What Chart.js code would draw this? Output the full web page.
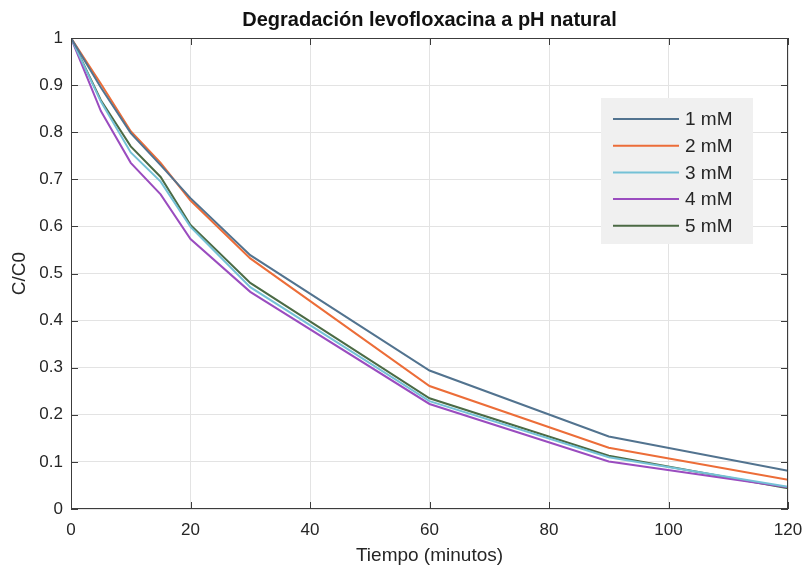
<!DOCTYPE html>
<html>
<head>
<meta charset="utf-8">
<script src="https://cdn.jsdelivr.net/npm/chart.js@4"></script>
<style>
  html, body { margin: 0; padding: 0; background: #fff; }
  #wrap { width: 805px; height: 568px; }
</style>
</head>
<body>
<div id="wrap"><canvas id="chart" width="805" height="568"></canvas></div>
<script>
'use strict';

/* ---------- data ---------- */
const tiempo = [0, 5, 10, 15, 20, 30, 60, 90, 120];
const serie1mM = [1, 0.895, 0.798, 0.730, 0.660, 0.539, 0.294, 0.154, 0.081];
const serie2mM = [1, 0.903, 0.802, 0.735, 0.655, 0.532, 0.261, 0.130, 0.062];
const serie3mM = [1, 0.865, 0.757, 0.695, 0.599, 0.471, 0.229, 0.110, 0.047];
const serie4mM = [1, 0.845, 0.735, 0.668, 0.573, 0.461, 0.223, 0.101, 0.046];
const serie5mM = [1, 0.868, 0.770, 0.705, 0.603, 0.480, 0.235, 0.113, 0.044];
const etiquetas = ['1 mM', '2 mM', '3 mM', '4 mM', '5 mM'];
const colores = ['#52738f', '#ec6d38', '#74c1d6', '#9a4cbf', '#4b6a44'];
const xTicks = [0, 20, 40, 60, 80, 100, 120];
const titulo = 'Degradación levofloxacina a pH natural';

const FONT = '"Liberation Sans", Arial, Helvetica, sans-serif';

function toPoints(ys) {
  return ys.map(function (y, i) { return { x: tiempo[i], y: y }; });
}

/* ---------- title over the axes, box, inward ticks, legend (MATLAB look) ---------- */
const matlabFrame = {
  id: 'matlabFrame',
  afterDatasetsDraw: function (chart) {
    const ctx = chart.ctx;
    const a = chart.chartArea;
    const xs = chart.scales.x, ys = chart.scales.y;
    ctx.save();

    /* title centred on the plot area, like MATLAB */
    ctx.fillStyle = '#111';
    ctx.font = 'bold 20px ' + FONT;
    ctx.textAlign = 'center';
    ctx.textBaseline = 'middle';
    ctx.fillText(titulo, (a.left + a.right) / 2, 20);

    ctx.strokeStyle = '#3c3c3c';
    ctx.lineWidth = 1;
    ctx.strokeRect(a.left + 0.5, a.top + 0.5, a.right - a.left - 1, a.bottom - a.top - 1);

    /* inward ticks */
    ctx.beginPath();
    xTicks.forEach(function (v) {
      const px = Math.round(xs.getPixelForValue(v)) + 0.5;
      ctx.moveTo(px, a.bottom); ctx.lineTo(px, a.bottom - 7);
      ctx.moveTo(px, a.top);    ctx.lineTo(px, a.top + 7);
    });
    for (let v = 0; v <= 10; v++) {
      const py = Math.round(ys.getPixelForValue(v / 10)) + 0.5;
      ctx.moveTo(a.left, py);  ctx.lineTo(a.left + 7, py);
      ctx.moveTo(a.right, py); ctx.lineTo(a.right - 7, py);
    }
    ctx.stroke();

    /* legend box */
    const bx = 601, by = 98, bw = 152, bh = 146;
    ctx.fillStyle = '#f0f0f0';
    ctx.fillRect(bx, by, bw, bh);
    ctx.font = '19px ' + FONT;
    ctx.textAlign = 'left';
    ctx.textBaseline = 'middle';
    chart.data.datasets.forEach(function (ds, i) {
      const y = by + 21 + i * 26.7;
      ctx.strokeStyle = ds.borderColor;
      ctx.lineWidth = 2;
      ctx.beginPath();
      ctx.moveTo(bx + 12, y); ctx.lineTo(bx + 78, y);
      ctx.stroke();
      ctx.fillStyle = '#262626';
      ctx.fillText(ds.label, bx + 84, y + 1);
    });
    ctx.restore();
  }
};

function initChart() {
  const canvas = document.getElementById('chart');
  const series = [serie1mM, serie2mM, serie3mM, serie4mM, serie5mM];

  new Chart(canvas, {
    type: 'line',
    data: {
      datasets: series.map(function (s, i) {
        return {
          label: etiquetas[i],
          data: toPoints(s),
          borderColor: colores[i],
          backgroundColor: colores[i],
          borderWidth: 2,
          pointRadius: 0,
          tension: 0,
          fill: false
        };
      })
    },
    options: {
      responsive: false,
      animation: false,
      layout: { padding: { top: 38, right: 17, left: 0, bottom: 0 } },
      plugins: {
        legend: { display: false },
        tooltip: { enabled: false },
        title: { display: false }
      },
      scales: {
        x: {
          type: 'linear',
          min: 0, max: 120,
          afterBuildTicks: function (s) { s.ticks = xTicks.map(function (v) { return { value: v }; }); },
          afterFit: function (s) { s.height = 59; s.paddingRight = 0; s.paddingLeft = 0; },
          grid: { color: '#e3e3e3', drawTicks: false },
          border: { display: false },
          ticks: { color: '#262626', font: { family: FONT, size: 17 }, padding: 11, maxRotation: 0 },
          title: { display: true, text: 'Tiempo (minutos)', color: '#262626', font: { family: FONT, size: 19 }, padding: { top: 2, bottom: 1 } }
        },
        y: {
          type: 'linear',
          min: 0, max: 1,
          afterFit: function (s) { s.width = 71; s.paddingTop = 0; s.paddingBottom = 0; },
          grid: { color: '#e3e3e3', drawTicks: false },
          border: { display: false },
          ticks: {
            stepSize: 0.1,
            color: '#262626',
            font: { family: FONT, size: 17 },
            padding: 8,
            callback: function (v) { return +v.toFixed(1) + ''; }
          },
          title: { display: true, text: 'C/C0', color: '#262626', font: { family: FONT, size: 19 }, padding: { top: 8, bottom: 4 } }
        }
      }
    },
    plugins: [matlabFrame]
  });
}

document.addEventListener('DOMContentLoaded', initChart);
</script>
</body>
</html>
